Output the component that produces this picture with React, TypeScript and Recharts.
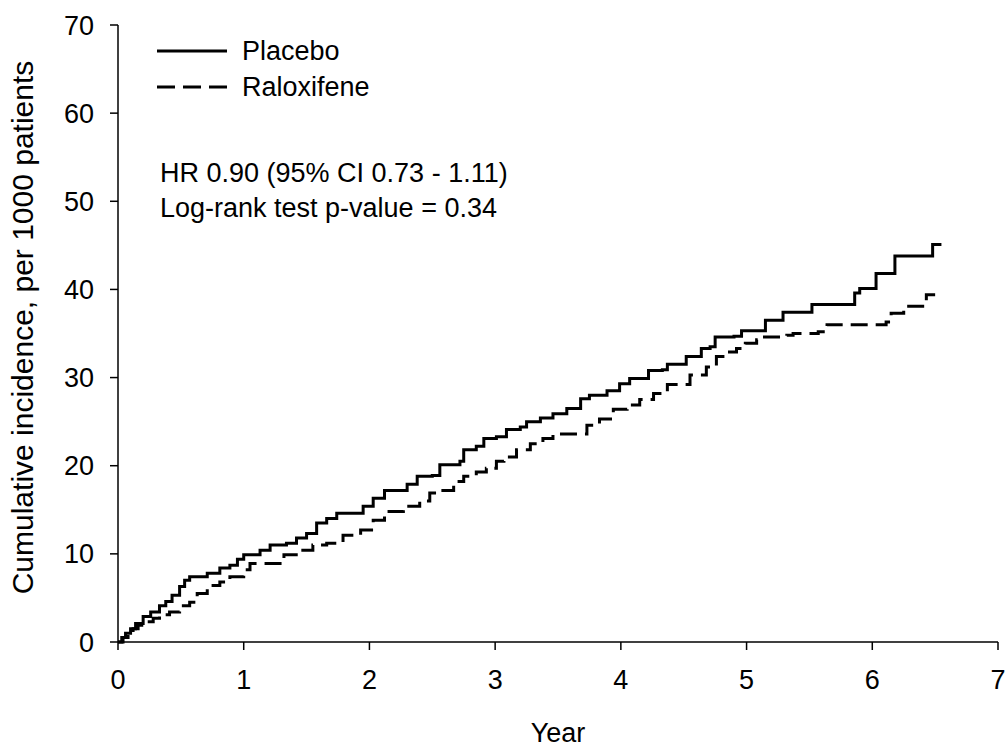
import React from "react";
import { LineChart, Line, XAxis, YAxis, Legend } from "recharts";

const FONT = "'Liberation Sans', Arial, sans-serif";

// Placebo cumulative incidence (per 1000 patients) by year
const placeboYears = [0, 0.03, 0.06, 0.1, 0.14, 0.2, 0.26, 0.33, 0.38, 0.43, 0.49, 0.53, 0.57, 0.71, 0.81, 0.89, 0.95, 1.0, 1.13, 1.21, 1.34, 1.42, 1.5, 1.58, 1.66, 1.74, 1.95, 2.03, 2.12, 2.3, 2.38, 2.5, 2.56, 2.72, 2.75, 2.85, 2.91, 3.01, 3.09, 3.2, 3.25, 3.36, 3.46, 3.57, 3.68, 3.75, 3.89, 3.99, 4.07, 4.22, 4.33, 4.37, 4.52, 4.64, 4.71, 4.75, 4.9, 4.96, 5.15, 5.29, 5.52, 5.86, 5.9, 6.03, 6.18, 6.48, 6.55];
const placeboValues = [0, 0.5, 1.0, 1.5, 2.1, 2.9, 3.4, 4.1, 4.6, 5.3, 6.3, 7.0, 7.4, 7.8, 8.4, 8.7, 9.4, 9.9, 10.4, 11.0, 11.2, 11.8, 12.3, 13.5, 14.0, 14.6, 15.4, 16.3, 17.2, 17.9, 18.8, 18.9, 20.1, 20.5, 21.8, 22.2, 23.1, 23.3, 24.1, 24.4, 25.0, 25.4, 25.9, 26.5, 27.6, 28.0, 28.5, 29.3, 29.9, 30.8, 30.9, 31.5, 32.4, 33.3, 33.5, 34.6, 34.7, 35.3, 36.5, 37.4, 38.3, 39.6, 40.1, 41.8, 43.8, 45.1, 45.1];

// Raloxifene cumulative incidence (per 1000 patients) by year
const raloxYears = [0, 0.04, 0.08, 0.12, 0.16, 0.23, 0.28, 0.33, 0.41, 0.49, 0.57, 0.63, 0.71, 0.81, 0.89, 1.0, 1.05, 1.32, 1.45, 1.55, 1.66, 1.79, 1.93, 2.03, 2.12, 2.27, 2.4, 2.48, 2.57, 2.67, 2.75, 2.85, 2.93, 3.01, 3.07, 3.17, 3.28, 3.38, 3.46, 3.73, 3.83, 3.94, 4.05, 4.15, 4.26, 4.37, 4.55, 4.68, 4.76, 4.84, 4.92, 4.99, 5.08, 5.13, 5.32, 5.37, 5.57, 5.64, 6.11, 6.15, 6.25, 6.43, 6.5];
const raloxValues = [0, 0.5, 1.0, 1.5, 1.9, 2.3, 2.7, 3.1, 3.4, 4.1, 4.5, 5.5, 6.4, 6.8, 7.4, 8.2, 8.9, 9.9, 10.4, 11.0, 11.2, 12.1, 12.7, 13.8, 14.8, 15.4, 16.0, 16.9, 17.2, 18.2, 18.8, 19.3, 19.7, 20.5, 21.0, 21.8, 22.5, 23.1, 23.6, 24.6, 25.3, 26.4, 26.9, 27.5, 28.2, 29.2, 30.3, 31.2, 32.4, 32.9, 33.3, 33.9, 34.3, 34.6, 34.8, 35.0, 35.2, 36.0, 36.3, 37.3, 38.1, 39.4, 39.4];

const xTicks = [0, 1, 2, 3, 4, 5, 6, 7];
const yTicks = [0, 10, 20, 30, 40, 50, 60, 70];

const seriesNames = ["Placebo", "Raloxifene"];
const seriesDash = ["", "18 8"];
const annotationLines = ["HR 0.90 (95% CI 0.73 - 1.11)", "Log-rank test p-value = 0.34"];

const yLabelText = "Cumulative incidence, per 1000 patients";
const xLabelText = "Year";

const placeboData = placeboYears.map((t, i) => ({ t, v: placeboValues[i] }));
const raloxData = raloxYears.map((t, i) => ({ t, v: raloxValues[i] }));

const FS = 27;
const YFS = 30;

const YLabel = (props: any) => {
  const vb = props.viewBox || { x: 0, y: 0, width: 0, height: 0 };
  const x = vb.x + 33;
  const y = vb.y + vb.height / 2 - 6;
  return (
    <text
      x={x}
      y={y}
      transform={`rotate(-90, ${x}, ${y})`}
      textAnchor="middle"
      fontSize={YFS}
      fontFamily={FONT}
      fill="#000"
    >
      {yLabelText}
    </text>
  );
};

const LegendContent = () => (
  <div style={{ position: "relative", width: 600, height: 240, fontFamily: FONT, fontSize: FS, color: "#000" }}>
    {seriesNames.map((name, i) => (
      <div
        key={name}
        style={{ position: "absolute", left: 157, top: 34 + i * 36, height: 34, display: "flex", alignItems: "center", whiteSpace: "nowrap" }}
      >
        <svg width={72} height={10} style={{ marginRight: 13 }}>
          <line x1={0} y1={5} x2={70} y2={5} stroke="#000" strokeWidth={3} strokeDasharray={seriesDash[i] || undefined} />
        </svg>
        <span style={{ lineHeight: "34px" }}>{name}</span>
      </div>
    ))}
    {annotationLines.map((line, i) => (
      <div
        key={line}
        style={{ position: "absolute", left: 160, top: 156 + i * 35, lineHeight: "34px", whiteSpace: "nowrap" }}
      >
        {line}
      </div>
    ))}
  </div>
);

export default function App() {
  return (
    <div style={{ position: "absolute", left: 0, top: 0, width: 1005, height: 751, background: "#fff" }}>
      <LineChart width={1005} height={751} margin={{ top: 25, right: 7, left: 0, bottom: 0 }}>
        <XAxis
          dataKey="t"
          type="number"
          domain={[0, 7]}
          ticks={xTicks}
          interval={0}
          allowDataOverflow
          height={109}
          tickSize={8}
          tickMargin={20}
          stroke="#000"
          strokeWidth={1.5}
          tick={{ fontSize: FS, fill: "#000", fontFamily: FONT }}
          label={{ value: xLabelText, position: "insideBottom", offset: 9, fontSize: FS, fill: "#000", fontFamily: FONT }}
        />
        <YAxis
          type="number"
          domain={[0, 70]}
          ticks={yTicks}
          interval={0}
          width={118}
          tickSize={8}
          tickMargin={16}
          stroke="#000"
          strokeWidth={1.5}
          tick={{ fontSize: FS, fill: "#000", fontFamily: FONT }}
          label={<YLabel />}
        />
        <Legend
          layout="vertical"
          align="center"
          verticalAlign="middle"
          wrapperStyle={{ left: 0, top: 0, width: 600, height: 240 }}
          content={<LegendContent />}
        />
        <Line
          data={placeboData}
          dataKey="v"
          name={seriesNames[0]}
          type="stepAfter"
          stroke="#000"
          strokeWidth={3}
          dot={false}
          activeDot={false}
          isAnimationActive={false}
        />
        <Line
          data={raloxData}
          dataKey="v"
          name={seriesNames[1]}
          type="stepAfter"
          stroke="#000"
          strokeWidth={3}
          strokeDasharray="17 8"
          dot={false}
          activeDot={false}
          isAnimationActive={false}
        />
      </LineChart>
    </div>
  );
}
